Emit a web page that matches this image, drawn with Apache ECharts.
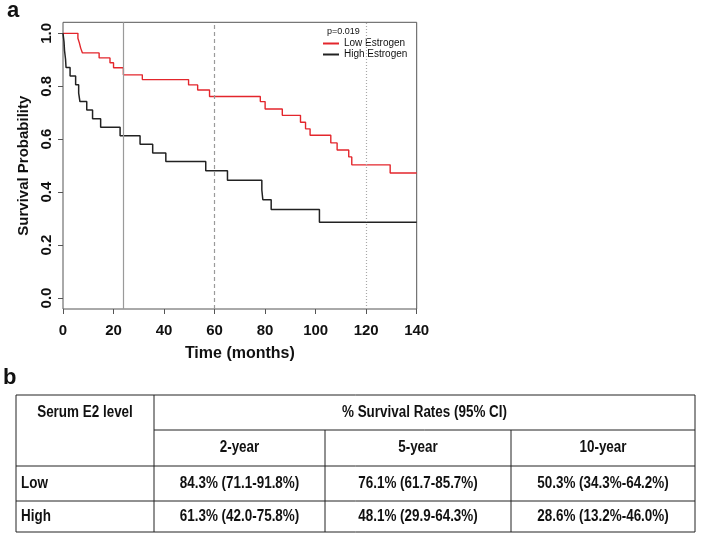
<!DOCTYPE html>
<html>
<head>
<meta charset="utf-8">
<script src="https://cdn.jsdelivr.net/npm/echarts@6/dist/echarts.min.js"></script>
<style>
  html, body { margin: 0; padding: 0; background: #fff; }
  #chart { position: absolute; left: 0; top: 0; width: 709px; height: 533px; }
</style>
</head>
<body>
<div id="chart"></div>
<script>
// ---- Kaplan-Meier data ----
const lowTimes = [0, 5.9, 6.5, 7.0, 7.7, 14.3, 18.6, 20.0, 23.9, 31.4, 49.7, 53.3, 58.0, 78.1, 80.0, 86.8, 94.0, 96.0, 97.8, 106.0, 108.5, 113.1, 114.3, 129.5, 140];
const lowSurv  = [1.0, 0.981, 0.963, 0.944, 0.926, 0.907, 0.889, 0.870, 0.843, 0.825, 0.805, 0.786, 0.761, 0.742, 0.714, 0.690, 0.664, 0.639, 0.615, 0.586, 0.559, 0.533, 0.503, 0.472, 0.472];
const highTimes = [0, 0.4, 0.6, 1.0, 1.2, 2.8, 5.0, 6.2, 6.7, 9.4, 11.7, 14.9, 22.6, 30.5, 35.5, 40.7, 56.5, 65.1, 78.7, 79.1, 82.4, 101.5, 140];
const highSurv  = [1.0, 0.968, 0.935, 0.903, 0.871, 0.839, 0.806, 0.774, 0.742, 0.710, 0.677, 0.645, 0.613, 0.581, 0.548, 0.516, 0.481, 0.445, 0.408, 0.371, 0.334, 0.286, 0.286];
const seriesNames = ['Low Estrogen', 'High Estrogen'];
const refTimes = [24, 60, 120];
const xTickInterval = 20;
const yTickInterval = 0.2;
const pValueText = 'p=0.019';

// ---- Table data ----
const tableHeader1 = ['Serum E2 level', '% Survival Rates (95% CI)'];
const tableColumns = ['2-year', '5-year', '10-year'];
const tableRowLabels = ['Low', 'High'];
const lowRates  = ['84.3% (71.1-91.8%)', '76.1% (61.7-85.7%)', '50.3% (34.3%-64.2%)'];
const highRates = ['61.3% (42.0-75.8%)', '48.1% (29.9-64.3%)', '28.6% (13.2%-46.0%)'];

const zip = (t, s) => t.map((x, i) => [x, s[i]]);

const FONT = "'Liberation Sans', Arial, Helvetica, sans-serif";

// layout (pixels)
const G = { left: 63, right: 292.3 };
const boxTop = 22.3, boxBottom = 309, dataTop = 33.3, dataBottom = 298;
const W = 709, H = 533;

// table layout
const T = { left: 16, right: 695, top: 395, h1: 430, h2: 466, h3: 501, bottom: 532, c1: 154, c2: 325, c3: 511 };

const graphics = [];
function line(x1, y1, x2, y2) {
  graphics.push({ type: 'line', shape: { x1, y1, x2, y2 }, style: { stroke: '#222', lineWidth: 1 }, silent: true });
}
function text(str, x, y, align, weight, size, sx) {
  graphics.push({ type: 'text', x, y, scaleX: sx || 1, silent: true,
    style: { text: str, fill: '#111', font: weight + ' ' + size + 'px ' + FONT, textAlign: align, textVerticalAlign: 'middle' } });
}
// panel labels
text('a', 7, 11, 'left', 'bold', 22);
text('b', 3, 378, 'left', 'bold', 22);
// p value
text(pValueText, 327, 32, 'left', 'normal', 9);

// table grid
graphics.push({ type: 'rect', shape: { x: T.left, y: T.top, width: T.right - T.left, height: T.bottom - T.top },
  style: { fill: 'none', stroke: '#222', lineWidth: 1 }, silent: true });
line(T.c1, T.top, T.c1, T.bottom);
line(T.c2, T.h1, T.c2, T.bottom);
line(T.c3, T.h1, T.c3, T.bottom);
line(T.c1, T.h1, T.right, T.h1);
line(T.left, T.h2, T.right, T.h2);
line(T.left, T.h3, T.right, T.h3);
const colCenters = [(T.c1 + T.c2) / 2, (T.c2 + T.c3) / 2, (T.c3 + T.right) / 2];
const TS = 16, TSX = 0.84;
text(tableHeader1[0], (T.left + T.c1) / 2, (T.top + T.h1) / 2, 'center', 'bold', TS, TSX);
text(tableHeader1[1], (T.c1 + T.right) / 2, (T.top + T.h1) / 2, 'center', 'bold', TS, TSX);
tableColumns.forEach((c, i) => text(c, colCenters[i], (T.h1 + T.h2) / 2, 'center', 'bold', TS, TSX));
const rowYs = [(T.h2 + T.h3) / 2, (T.h3 + T.bottom) / 2];
[lowRates, highRates].forEach((rates, r) => {
  text(tableRowLabels[r], T.left + 5, rowYs[r], 'left', 'bold', TS, TSX);
  rates.forEach((v, i) => text(v, colCenters[i], rowYs[r], 'center', 'bold', TS, TSX));
});

const chart = echarts.init(document.getElementById('chart'), null, { renderer: 'canvas', width: W, height: H });
chart.setOption({
  animation: false,
  backgroundColor: '#fff',
  grid: [
    { left: G.left, right: G.right, top: boxTop, bottom: H - boxBottom, show: true, borderColor: '#555', borderWidth: 1, backgroundColor: 'transparent', containLabel: false },
    { left: G.left, right: G.right, top: dataTop, bottom: H - dataBottom, containLabel: false }
  ],
  xAxis: [
    { gridIndex: 0, type: 'value', min: 0, max: 140, interval: xTickInterval,
      axisLine: { show: false },
      axisTick: { show: true, length: 5, lineStyle: { color: '#555' } },
      splitLine: { show: false },
      axisLabel: { color: '#111', fontFamily: FONT, fontWeight: 'bold', fontSize: 15, margin: 14 },
      name: 'Time (months)', nameLocation: 'middle', nameGap: 37,
      nameTextStyle: { color: '#111', fontFamily: FONT, fontWeight: 'bold', fontSize: 16 } },
    { gridIndex: 1, type: 'value', min: 0, max: 140, show: false }
  ],
  yAxis: [
    { gridIndex: 0, type: 'value', min: 0, max: 1, show: false },
    { gridIndex: 1, type: 'value', min: 0, max: 1, interval: yTickInterval,
      axisLine: { show: false },
      axisTick: { show: true, length: 5, lineStyle: { color: '#555' } },
      splitLine: { show: false },
      axisLabel: { color: '#111', fontFamily: FONT, fontWeight: 'bold', fontSize: 15, margin: 9, rotate: 90,
        formatter: v => v.toFixed(1) },
      name: 'Survival Probability', nameLocation: 'middle', nameGap: 32,
      nameTextStyle: { color: '#111', fontFamily: FONT, fontWeight: 'bold', fontSize: 15 } }
  ],
  legend: {
    data: seriesNames, orient: 'vertical', left: 323, top: 38, padding: 0, itemWidth: 16, itemHeight: 2, itemGap: 0,
    icon: 'rect', textStyle: { color: '#111', fontFamily: FONT, fontSize: 10, lineHeight: 11 }
  },
  series: [
    { name: 'refs', type: 'line', xAxisIndex: 0, yAxisIndex: 0, data: [[0, 0.5], [140, 0.5]], showSymbol: false,
      lineStyle: { width: 0, opacity: 0 }, silent: true, z: 1,
      markLine: { silent: true, symbol: 'none', label: { show: false }, animation: false,
        data: [
          { xAxis: refTimes[0], lineStyle: { color: '#9a9a9a', width: 1.2, type: 'solid' } },
          { xAxis: refTimes[1], lineStyle: { color: '#9a9a9a', width: 1.2, type: [4, 3] } },
          { xAxis: refTimes[2], lineStyle: { color: '#a8a8a8', width: 1.2, type: [1, 2] } }
        ] } },
    { name: seriesNames[0], type: 'line', xAxisIndex: 1, yAxisIndex: 1, step: 'end', data: zip(lowTimes, lowSurv),
      showSymbol: false, itemStyle: { color: '#e3262c' }, lineStyle: { color: '#e3262c', width: 1.4 }, z: 3 },
    { name: seriesNames[1], type: 'line', xAxisIndex: 1, yAxisIndex: 1, step: 'end', data: zip(highTimes, highSurv),
      showSymbol: false, itemStyle: { color: '#222' }, lineStyle: { color: '#222', width: 1.5 }, z: 3 }
  ],
  graphic: graphics
});
</script>
</body>
</html>
